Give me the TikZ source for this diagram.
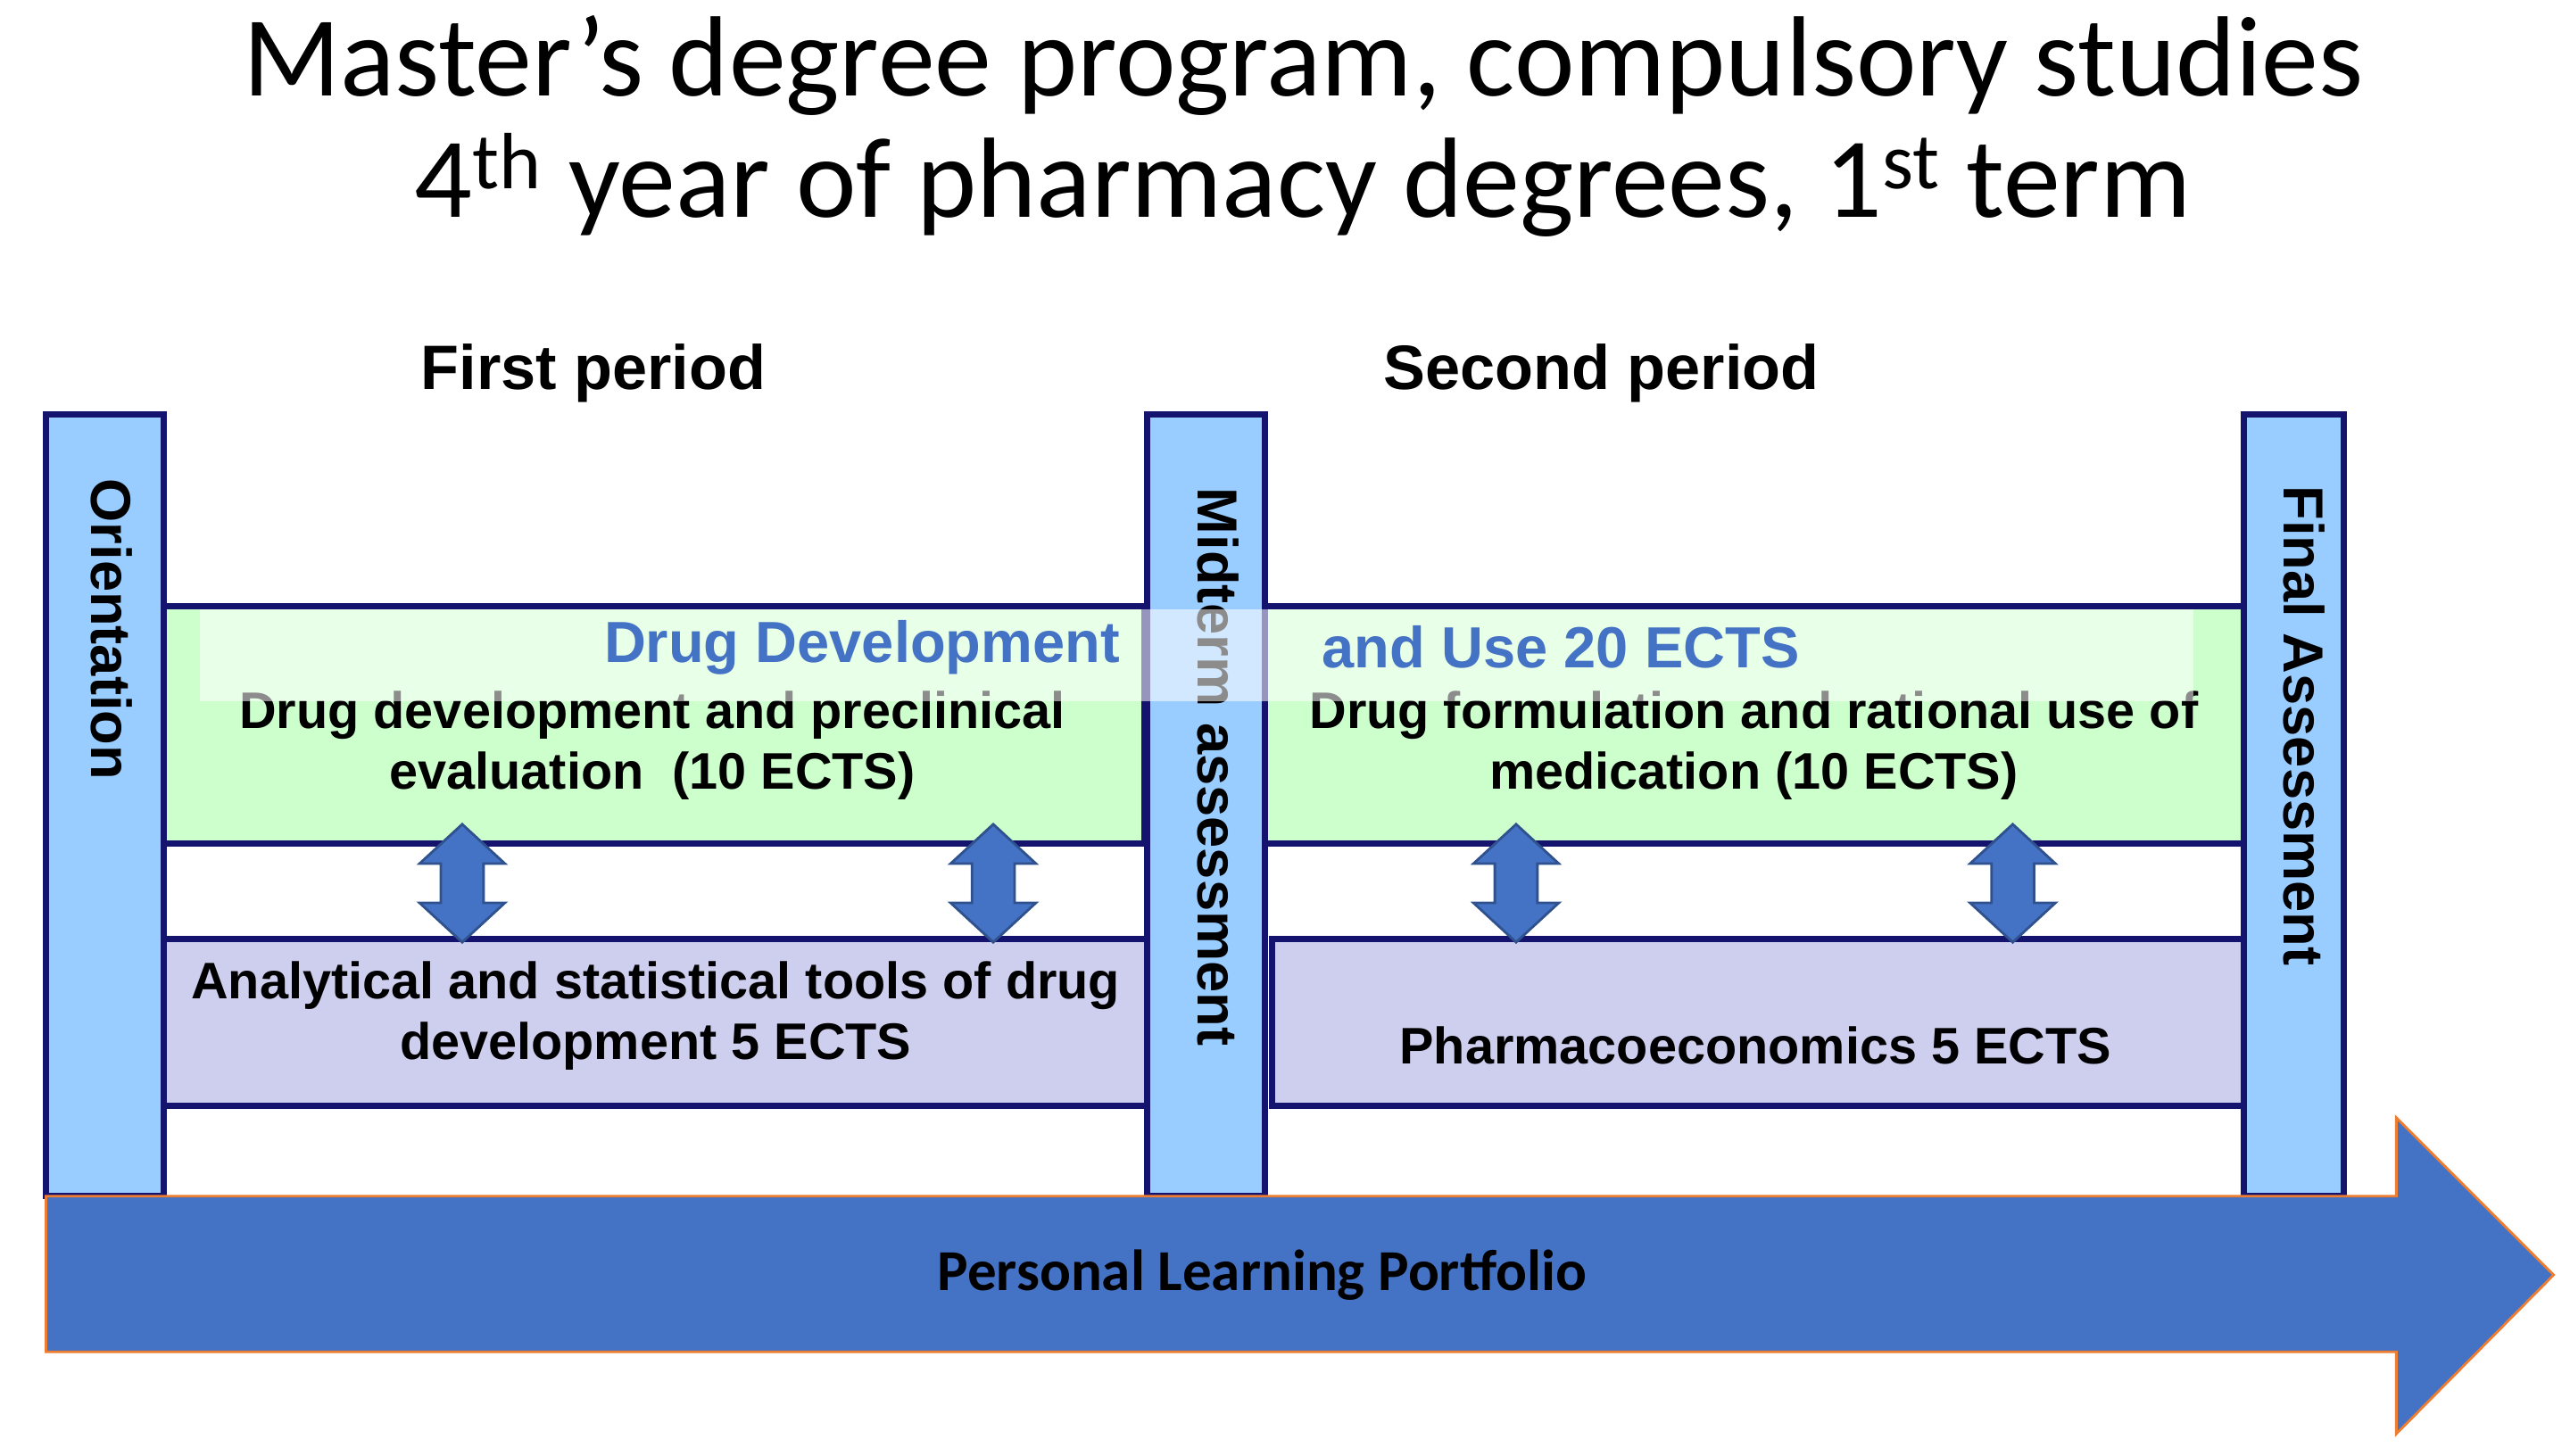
\documentclass[tikz,border=0pt]{standalone}
\usepackage{fontspec}
\setmainfont{Liberation Sans}
\newfontfamily\calib{Carlito}
\definecolor{barblue}{RGB}{153,204,255}
\definecolor{navy}{RGB}{20,20,110}
\definecolor{lgreen}{RGB}{204,255,204}
\definecolor{lilac}{RGB}{206,206,238}
\definecolor{mblue}{RGB}{68,114,196}
\definecolor{dblue}{RGB}{47,82,143}
\definecolor{arrowedge}{RGB}{237,125,49}
\tikzset{
    bar/.style = {draw = navy, line width = 2pt, fill = barblue},
    course/.style = {draw = navy, line width = 2pt, fill = lgreen},
    tools/.style = {draw = navy, line width = 2pt, fill = lilac},
    label/.style = {font = \bfseries\fontsize{16.4}{19.5}\selectfont, align = center},
    barlabel/.style = {font = \bfseries\fontsize{18}{21}\selectfont, rotate = -90},
    link/.style = {fill = mblue, draw = dblue, line width = 0.8pt}
}
\begin{document}
\begin{tikzpicture}[x = 0.01837cm, y = -0.01837cm]
    \useasboundingbox (0,0) rectangle (1568,888);
    % title
    \node [font = \calib\fontsize{36.4}{44}\selectfont] (title1) at (795,40) {Master’s degree program, compulsory studies};
    \node [font = \calib\fontsize{36.4}{44}\selectfont] (title2) at (795,113) {4\textsuperscript{th} year of pharmacy degrees, 1\textsuperscript{st} term};
    \node [font = \bfseries\fontsize{20}{24}\selectfont] (p1) at (362,228) {First period};
    \node [font = \bfseries\fontsize{20}{24}\selectfont] (p2) at (977,228) {Second period};
    % courses
    \draw [course] (100,370) rectangle (698,515);
    \draw [course] (772,370) rectangle (1369,515);
    \draw [tools] (100,573) rectangle (700,675);
    \draw [tools] (776,573) rectangle (1369,675);
    \node [label] (c1) at (398,455) {Drug development and preclinical\\evaluation~ (10 ECTS)};
    \node [label] (c2) at (1070,455) {Drug formulation and rational use of\\medication (10 ECTS)};
    \node [label] (t1) at (400,620) {Analytical and statistical tools of drug\\development 5 ECTS};
    \node [label] (t2) at (1071,638) {Pharmacoeconomics 5 ECTS};
    % bars
    \draw [bar] (28,253) rectangle (100,730);
    \draw [bar] (700,253) rectangle (772,730);
    \draw [bar] (1369,253) rectangle (1430,730);
    \node [barlabel] (b1) at (68,384) {Orientation};
    \node [barlabel] (b2) at (743,468) {Midterm assessment};
    \node [barlabel] (b3) at (1406,443) {Final Assessment};
    % banner
    \fill [white, opacity = 0.55] (122,372) rectangle (1338,428);
    \node [font = \bfseries\fontsize{18.5}{22}\selectfont, text = mblue, anchor = east] (d1) at (690,395) {Drug Development};
    \node [font = \bfseries\fontsize{18.5}{22}\selectfont, text = mblue, anchor = west] (d2) at (800,395) {and Use 20 ECTS};
    % links
    \foreach \x in {282, 606, 925, 1228}
        \draw [link] (\x,503) -- (\x+26,527) -- (\x+13,527) -- (\x+13,551) -- (\x+26,551)
            -- (\x,575) -- (\x-26,551) -- (\x-13,551) -- (\x-13,527) -- (\x-26,527) -- cycle;
    % portfolio
    \draw [fill = mblue, draw = arrowedge, line width = 0.8pt] (28,730) -- (1462,730) -- (1462,682) -- (1558,778) -- (1462,875) -- (1462,825) -- (28,825) -- cycle;
    \node [font = \calib\bfseries\fontsize{18.5}{22}\selectfont] (plp) at (770,778) {Personal Learning Portfolio};
\end{tikzpicture}
\end{document}
